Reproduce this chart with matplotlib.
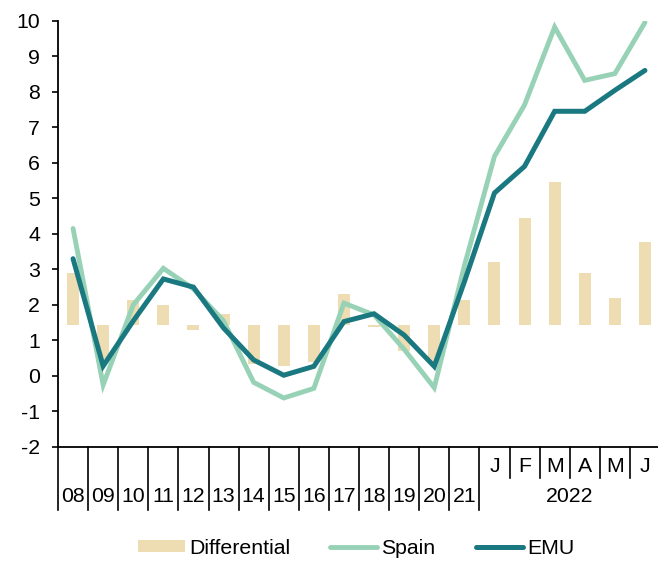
import matplotlib
matplotlib.use("Agg")
import matplotlib.pyplot as plt
import matplotlib.transforms as mtransforms
from matplotlib.patches import Patch
from matplotlib.lines import Line2D

plt.rcParams['font.family'] = ['Liberation Sans', 'DejaVu Sans']
plt.rcParams['axes.unicode_minus'] = False

years = ["08", "09", "10", "11", "12", "13", "14", "15", "16", "17", "18", "19", "20", "21"]
months = ["J", "F", "M", "A", "M", "J"]
month_year = "2022"

spain = [4.15, -0.25, 2.0, 3.03, 2.45, 1.55, -0.18, -0.62, -0.35, 2.05, 1.72, 0.75, -0.33, 3.1,
         6.18, 7.63, 9.82, 8.32, 8.51, 9.95]
emu = [3.3, 0.28, 1.55, 2.73, 2.5, 1.35, 0.45, 0.02, 0.27, 1.53, 1.75, 1.15, 0.27, 2.65,
       5.15, 5.9, 7.45, 7.45, 8.04, 8.6]
differential = [0.85, -0.58, 0.41, 0.33, -0.08, 0.19, -0.64, -0.67, -0.6, 0.51, -0.03, -0.42, -0.6, 0.41,
                1.03, 1.76, 2.35, 0.85, 0.44, 1.36]

c_bar = "#EEDCB3"
c_spain = "#97D2B6"
c_emu = "#1A7980"
fs = 15.3

W, H = 658, 563
fig = plt.figure(figsize=(W / 100, H / 100), dpi=100)
left, right = 58 / W, 660 / W
top, bottom = 1 - 20.7 / H, 1 - 447 / H
ax = fig.add_axes([left, bottom, right - left, top - bottom])
ax2 = ax.twinx()

n = len(spain)
x = list(range(n))

ax2.bar(x, differential, width=0.4, color=c_bar, zorder=1)
ax2.set_ylim(-2, 5)
ax2.axis("off")

ax.set_zorder(ax2.get_zorder() + 1)
ax.patch.set_visible(False)
ax.plot(x, spain, color=c_spain, lw=3.5, solid_capstyle="round", solid_joinstyle="miter", zorder=3)
ax.plot(x, emu, color=c_emu, lw=3.6, solid_capstyle="round", solid_joinstyle="miter", zorder=4)

ax.set_ylim(-2, 10)
ax.set_xlim(-0.5, n - 0.5)
ax.set_yticks(range(-2, 11))
ax.tick_params(axis="y", direction="out", length=4, width=1.2, pad=9, labelsize=fs, colors="black")
ax.set_xticks([])
for s in ["top", "right"]:
    ax.spines[s].set_visible(False)
for s in ["left", "bottom"]:
    ax.spines[s].set_linewidth(1.3)
    ax.spines[s].set_color("black")

trans = mtransforms.blended_transform_factory(ax.transData, fig.transFigure)
y_axis = bottom
y_long = 1 - 510 / H
y_short = 1 - 478 / H
ny = len(years)
for k in range(ny + 1):
    ax.plot([k - 0.5, k - 0.5], [y_axis, y_long], transform=trans, color="black", lw=1.2, clip_on=False)
for k in range(ny + 1, n):
    ax.plot([k - 0.5, k - 0.5], [y_axis, y_short], transform=trans, color="black", lw=1.2, clip_on=False)

for i, lab in enumerate(years):
    ax.text(i, 1 - 497 / H, lab, transform=trans, ha="center", va="center", fontsize=fs)
for j, lab in enumerate(months):
    ax.text(ny + j, 1 - 467 / H, lab, transform=trans, ha="center", va="center", fontsize=fs)
ax.text(ny + (len(months) - 1) / 2, 1 - 497 / H, month_year, transform=trans, ha="center", va="center", fontsize=fs)

handles = [Patch(facecolor=c_bar, edgecolor="none"),
           Line2D([], [], color=c_spain, lw=3.5, solid_capstyle="round"),
           Line2D([], [], color=c_emu, lw=3.6, solid_capstyle="round")]
fig.legend(handles, ["Differential", "Spain", "EMU"], loc="center", bbox_to_anchor=(356 / W, 1 - 548 / H),
           ncol=3, frameon=False, fontsize=fs, handlelength=2.2, handleheight=0.5,
           handletextpad=0.2, columnspacing=1.9)

fig.savefig("out.png", dpi=100)
